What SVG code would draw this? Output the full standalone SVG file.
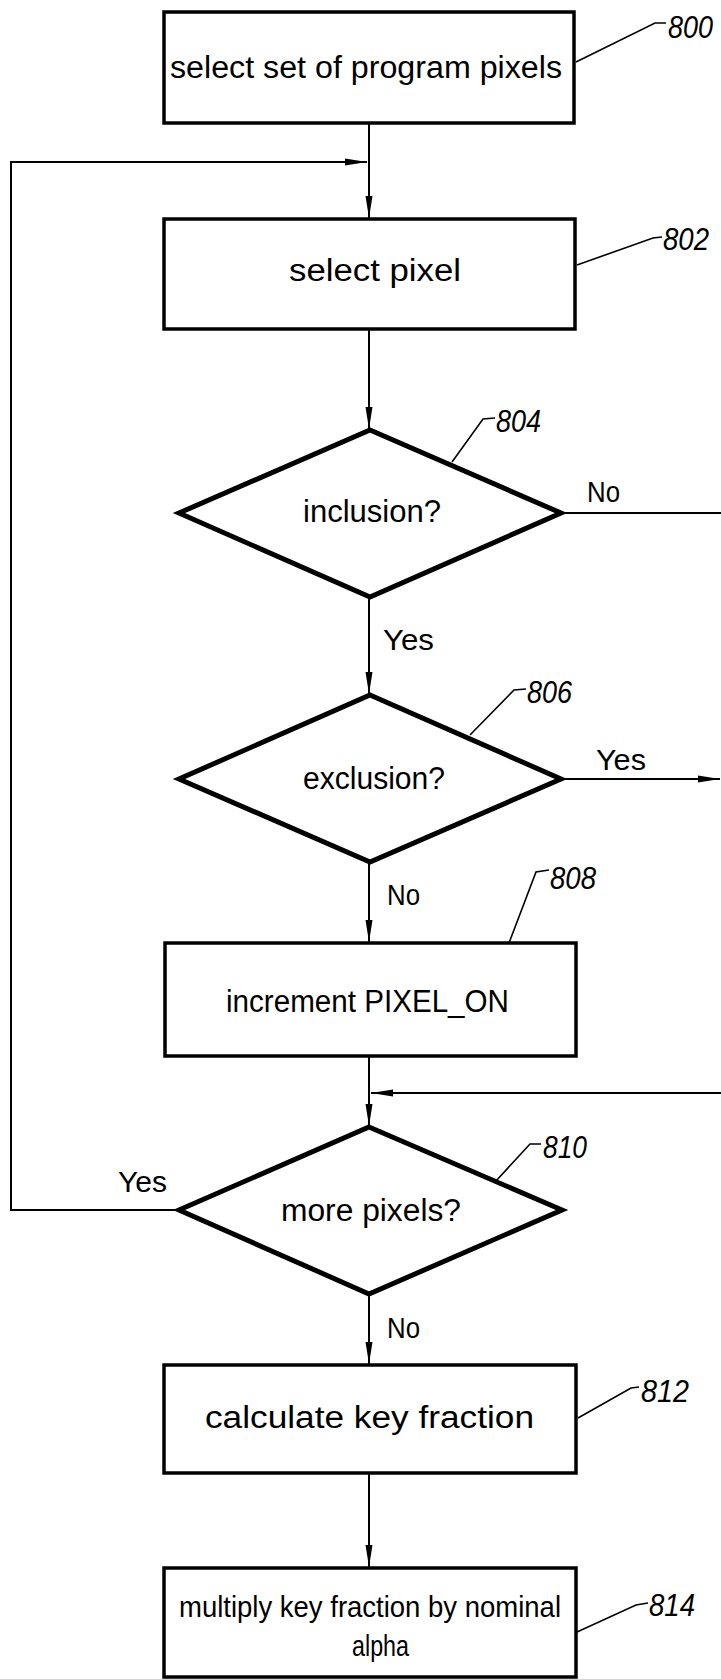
<svg xmlns="http://www.w3.org/2000/svg" width="721" height="1679" viewBox="0 0 721 1679">
<style>
.box{fill:#fff;stroke:#000;stroke-width:3.5}
.dia{fill:#fff;stroke:#000;stroke-width:5;stroke-linejoin:miter}
.con{fill:none;stroke:#000;stroke-width:2}
.lead{fill:none;stroke:#000;stroke-width:1.6}
.t{font-family:"Liberation Sans",Arial,sans-serif;font-size:31px;fill:#000}
.t2{font-family:"Liberation Sans",Arial,sans-serif;font-size:29px;fill:#000}
.yn{font-family:"Liberation Sans",Arial,sans-serif;font-size:30px;fill:#000}
.lbl{font-family:"Liberation Sans",Arial,sans-serif;font-size:32px;font-style:italic;fill:#000}
</style>
<defs>
<marker id="arr" markerUnits="userSpaceOnUse" markerWidth="22" markerHeight="8" refX="22" refY="4" orient="auto">
<path d="M0,0.5 L22,4 L0,7.5 Z" fill="#000"/>
</marker>
</defs>
<rect width="721" height="1679" fill="#fff"/>
<g id="connectors">
<line class="con" x1="369" y1="123" x2="369" y2="218" marker-end="url(#arr)"/>
<polyline class="con" points="179,1210 11,1210 11,162 367,162" marker-end="url(#arr)"/>
<line class="con" x1="369" y1="329" x2="369" y2="429" marker-end="url(#arr)"/>
<line class="con" x1="561" y1="513" x2="721" y2="513"/>
<line class="con" x1="369" y1="597" x2="369" y2="694" marker-end="url(#arr)"/>
<line class="con" x1="561" y1="779" x2="720" y2="779" marker-end="url(#arr)"/>
<line class="con" x1="369" y1="862" x2="369" y2="942" marker-end="url(#arr)"/>
<line class="con" x1="369" y1="1056" x2="369" y2="1126" marker-end="url(#arr)"/>
<line class="con" x1="721" y1="1093" x2="371" y2="1093" marker-end="url(#arr)"/>
<line class="con" x1="369" y1="1294" x2="369" y2="1364" marker-end="url(#arr)"/>
<line class="con" x1="369" y1="1473" x2="369" y2="1567" marker-end="url(#arr)"/>
<text class="yn" x="587" y="502" textLength="33" lengthAdjust="spacingAndGlyphs">No</text>
<text class="yn" x="383" y="650" textLength="51" lengthAdjust="spacingAndGlyphs">Yes</text>
<text class="yn" x="596" y="770" textLength="50" lengthAdjust="spacingAndGlyphs">Yes</text>
<text class="yn" x="387" y="905" textLength="33" lengthAdjust="spacingAndGlyphs">No</text>
<text class="yn" x="118" y="1192" textLength="49" lengthAdjust="spacingAndGlyphs">Yes</text>
<text class="yn" x="387" y="1338" textLength="33" lengthAdjust="spacingAndGlyphs">No</text>
</g>
<g id="n800">
<rect class="box" x="164" y="12" width="410" height="111"/>
<text class="t" x="170" y="78" textLength="392" lengthAdjust="spacingAndGlyphs">select set of program pixels</text>
<polyline class="lead" points="576,62 655,23 666,23"/>
<text class="lbl" x="668" y="38" textLength="45" lengthAdjust="spacingAndGlyphs">800</text>
</g>
<g id="n802">
<rect class="box" x="164" y="219" width="411" height="110"/>
<text class="t" x="289" y="281" textLength="172" lengthAdjust="spacingAndGlyphs">select pixel</text>
<polyline class="lead" points="577,265 653,238 662,237"/>
<text class="lbl" x="663" y="250" textLength="46" lengthAdjust="spacingAndGlyphs">802</text>
</g>
<g id="n804">
<polygon class="dia" points="370,430 561,513 370,597 179,513"/>
<text class="t" x="303" y="522" textLength="138" lengthAdjust="spacingAndGlyphs">inclusion?</text>
<polyline class="lead" points="452,462 483,419 495,418"/>
<text class="lbl" x="496" y="432" textLength="45" lengthAdjust="spacingAndGlyphs">804</text>
</g>
<g id="n806">
<polygon class="dia" points="370,695 561,779 370,862 179,779"/>
<text class="t" x="303" y="789" textLength="142" lengthAdjust="spacingAndGlyphs">exclusion?</text>
<polyline class="lead" points="470,735 514,690 526,689"/>
<text class="lbl" x="527" y="703" textLength="45" lengthAdjust="spacingAndGlyphs">806</text>
</g>
<g id="n808">
<rect class="box" x="165" y="943" width="411" height="113"/>
<text class="t" x="226" y="1012" textLength="283" lengthAdjust="spacingAndGlyphs">increment PIXEL_ON</text>
<polyline class="lead" points="509,943 536,872 549,870"/>
<text class="lbl" x="550" y="889" textLength="46" lengthAdjust="spacingAndGlyphs">808</text>
</g>
<g id="n810">
<polygon class="dia" points="369,1127 562,1210 369,1294 179,1210"/>
<text class="t" x="281" y="1221" textLength="180" lengthAdjust="spacingAndGlyphs">more pixels?</text>
<polyline class="lead" points="495,1182 530,1144 541,1144"/>
<text class="lbl" x="543" y="1158" textLength="44" lengthAdjust="spacingAndGlyphs">810</text>
</g>
<g id="n812">
<rect class="box" x="164" y="1365" width="412" height="108"/>
<text class="t" x="205" y="1428" textLength="329" lengthAdjust="spacingAndGlyphs">calculate key fraction</text>
<polyline class="lead" points="578,1418 631,1388 639,1387"/>
<text class="lbl" x="641" y="1402" textLength="48" lengthAdjust="spacingAndGlyphs">812</text>
</g>
<g id="n814">
<rect class="box" x="164" y="1568" width="412" height="109"/>
<text class="t2" x="179" y="1617" textLength="382" lengthAdjust="spacingAndGlyphs">multiply key fraction by nominal</text>
<text class="t2" x="352" y="1656" textLength="57" lengthAdjust="spacingAndGlyphs">alpha</text>
<polyline class="lead" points="577,1632 636,1605 648,1603"/>
<text class="lbl" x="649" y="1616" textLength="46" lengthAdjust="spacingAndGlyphs">814</text>
</g>
</svg>
